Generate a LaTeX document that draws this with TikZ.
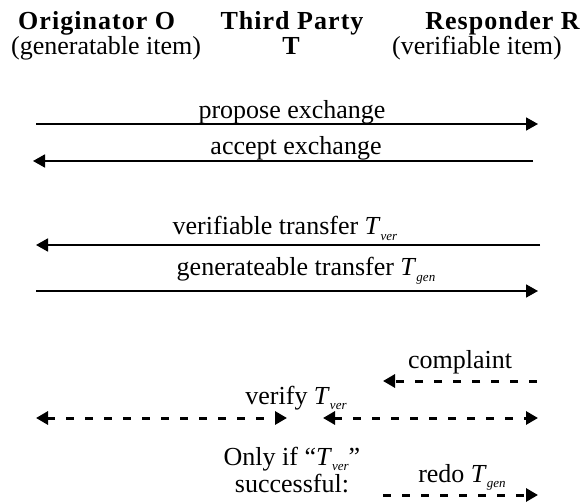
\documentclass[tikz,border=0pt]{standalone}
\usepackage{fontspec}
\setmainfont{Liberation Serif}
\usetikzlibrary{arrows.meta}
\newcommand{\Tsubscr}[1]{\textit{T}\raisebox{-5.5pt}{\fontsize{13}{13}\selectfont\itshape #1}}
\begin{document}
\begin{tikzpicture}[x=1pt,y=-1pt,
  tipR/.tip={Triangle[length=12pt,width=13pt]},
  msg/.style={line width=1.8pt},
  dmsg/.style={line width=3pt, dash pattern=on 8pt off 11pt},
  lbl/.style={inner sep=0pt, anchor=base, font=\fontsize{26}{27}\selectfont},
  head/.style={inner sep=0pt, anchor=base, font=\fontsize{26}{31}\selectfont\bfseries\addfontfeature{LetterSpace=4}}]
\useasboundingbox (0,0) rectangle (583,502);
% headers
\node[head, anchor=base west] (O) at (18,30) {Originator O};
\node[head] (T) at (292,30) {Third Party};
\node[head, anchor=base east] (R) at (580,30) {Responder R};
\node[lbl, anchor=base west] (Os) at (11,55) {(generatable item)};
\node[head] (Ts) at (291,55) {T};
\node[lbl, anchor=base east] (Rs) at (562,55) {(verifiable item)};
% lane points
\coordinate (o1) at (36,124);  \coordinate (r1) at (538,124);
\coordinate (o2) at (33,161);  \coordinate (r2) at (533,161);
\coordinate (o3) at (36,245);  \coordinate (r3) at (540,245);
\coordinate (o4) at (36,291);  \coordinate (r4) at (538,291);
\coordinate (c1) at (383,381); \coordinate (r5) at (537,381);
\coordinate (o6) at (36,418);  \coordinate (t6a) at (287,418);
\coordinate (t6b) at (323,418); \coordinate (r6) at (538,418);
\coordinate (t7) at (383,495); \coordinate (r7) at (538,495);
% solid messages
\draw[msg, -{tipR}] (o1) -- (r1);
\node[lbl] (l1) at (292,119) {propose exchange};
\draw[msg, -{tipR}] (r2) -- (o2);
\node[lbl] (l2) at (296,155) {accept exchange};
\draw[msg, -{tipR}] (r3) -- (o3);
\node[lbl] (l3) at (285,235) {verifiable transfer \Tsubscr{ver}};
\draw[msg, -{tipR}] (o4) -- (r4);
\node[lbl] (l4) at (306,276) {generateable transfer \Tsubscr{gen}};
% dashed messages
\draw[dmsg, -{tipR}] (r5) -- (c1);
\node[lbl] (l5) at (460,368) {complaint};
\draw[dmsg, {tipR}-{tipR}] (o6) -- (t6a);
\draw[dmsg, {tipR}-{tipR}] (t6b) -- (r6);
\node[lbl] (l6) at (296,404) {verify \Tsubscr{ver}};
\node[lbl, align=center] (l7) at (292,492) {Only if ``\Tsubscr{ver}''\\successful:};
\draw[dmsg, -{tipR}] (t7) -- (r7);
\node[lbl] (l8) at (462,482) {redo \Tsubscr{gen}};
\end{tikzpicture}
\end{document}
